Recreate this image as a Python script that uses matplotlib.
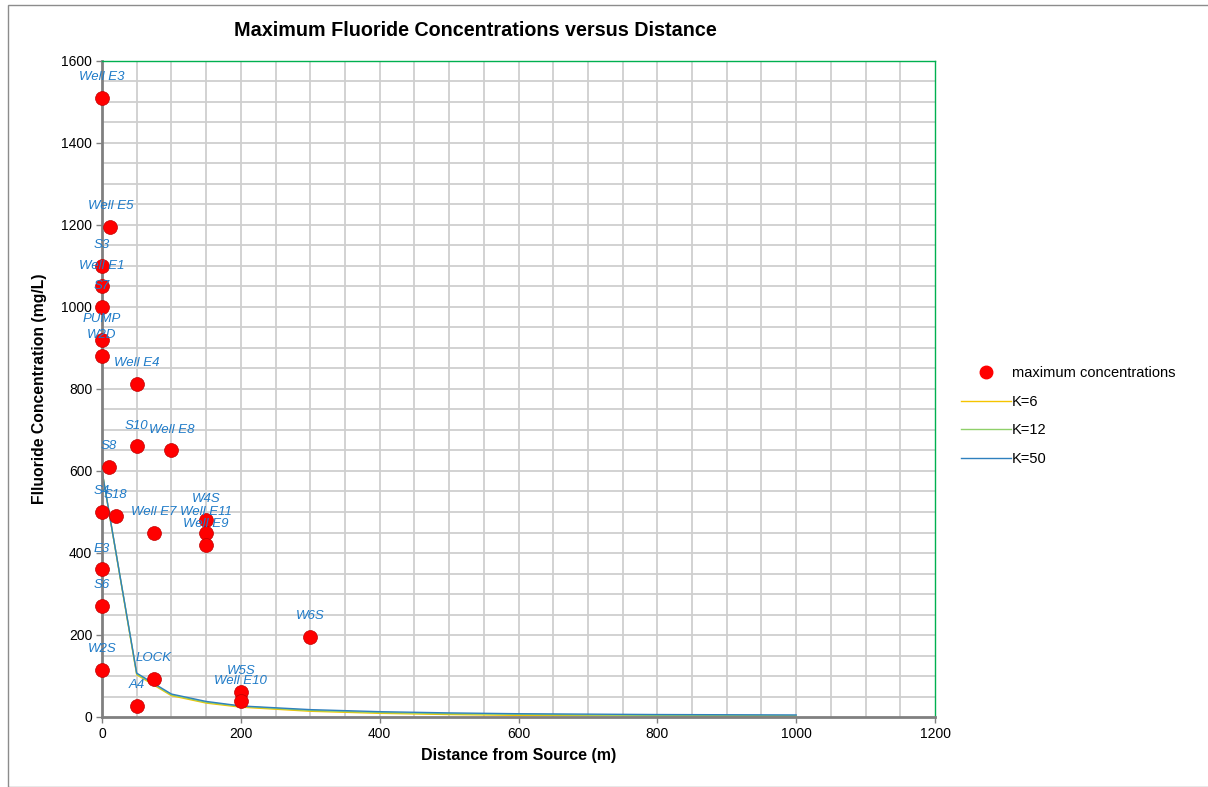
import matplotlib
matplotlib.use("Agg")
import matplotlib.pyplot as plt
from matplotlib.patches import Rectangle
from matplotlib.lines import Line2D

plt.rcParams['font.family'] = ['Liberation Sans', 'DejaVu Sans']

# ---- data ----
well_names = ["Well E3", "Well E5", "S3", "Well E1", "S7", "PUMP", "W2D", "Well E4",
              "S10", "Well E8", "S8", "S4", "S18", "Well E7", "W4S", "Well E11",
              "Well E9", "E3", "S6", "W6S", "W2S", "LOCK", "A4", "W5S", "Well E10"]
well_dist = [0, 12, 0, 0, 0, 0, 0, 50,
             50, 100, 10, 0, 20, 75, 150, 150,
             150, 0, 0, 300, 0, 75, 50, 200, 200]
well_conc = [1510, 1195, 1100, 1050, 1000, 920, 880, 812,
             660, 650, 610, 500, 490, 450, 480, 450,
             420, 360, 270, 195, 115, 92, 28, 62, 38]

model_dist = [0, 50, 100, 150, 200, 300, 400, 500, 600, 700, 800, 900, 1000]
k6_conc = [600, 103, 52, 34, 24, 14, 9, 6, 4, 3, 2, 1.5, 1]
k12_conc = [600, 105, 54, 36, 26, 16, 11, 8, 6.5, 5, 4, 3.5, 3]
k50_conc = [600, 107, 56, 38, 27, 18, 13, 10, 8, 7, 6, 5.5, 5]

x_ticks = [0, 200, 400, 600, 800, 1000, 1200]
y_ticks = [0, 200, 400, 600, 800, 1000, 1200, 1400, 1600]

W, H = 1208, 787
fig = plt.figure(figsize=(W / 100, H / 100), dpi=100)
fig.patches.append(Rectangle((8 / W, 0), 1.1, 1 - 5 / H, transform=fig.transFigure,
                             fill=False, edgecolor='#8c8c8c', lw=1.0))

ax = fig.add_axes([102 / W, 1 - 717 / H, (935 - 102) / W, (717 - 61) / H])
ax.set_xlim(0, 1200)
ax.set_ylim(0, 1600)

# grid every 50
for gx in range(50, 1200, 50):
    ax.axvline(gx, color='#cfcfcf', lw=1.3, zorder=0)
for gy in range(50, 1600, 50):
    ax.axhline(gy, color='#cfcfcf', lw=1.3, zorder=0)

ax.plot(model_dist, k6_conc, color='#F5C400', lw=1.0, label='K=6', zorder=2)
ax.plot(model_dist, k12_conc, color='#8FD06A', lw=1.0, label='K=12', zorder=2)
ax.plot(model_dist, k50_conc, color='#2F80BE', lw=1.0, label='K=50', zorder=2)

ax.scatter(well_dist, well_conc, s=100, color='#FF0000', edgecolors='#C00000',
           linewidths=0.5, zorder=5, label='maximum concentrations', clip_on=False)

for n, xv, yv in zip(well_names, well_dist, well_conc):
    ax.annotate(n, (xv, yv), xytext=(0, 15), textcoords='offset points',
                ha='center', va='center', fontsize=9.5, style='italic',
                color='#1F7BC8', zorder=6)

ax.set_xticks(x_ticks)
ax.set_yticks(y_ticks)
ax.tick_params(axis='both', labelsize=10, length=4, width=1, color='#808080',
               direction='out', pad=3)

for s in ['left', 'bottom']:
    ax.spines[s].set_color('#808080')
    ax.spines[s].set_linewidth(2)
for s in ['top', 'right']:
    ax.spines[s].set_color('#00B050')
    ax.spines[s].set_linewidth(1)

ax.set_xlabel('Distance from Source (m)', fontsize=11.5, fontweight='bold', labelpad=5)
ax.set_ylabel('Flluoride Concentration (mg/L)', fontsize=11.3, fontweight='bold', labelpad=10)

fig.text(475 / W, 1 - 31 / H, 'Maximum Fluoride Concentrations versus Distance',
         ha='center', va='center', fontsize=14.2, fontweight='bold')

handles = [Line2D([], [], marker='o', ls='none', color='#FF0000', markersize=9),
           Line2D([], [], color='#F5C400', lw=1),
           Line2D([], [], color='#8FD06A', lw=1),
           Line2D([], [], color='#2F80BE', lw=1)]
labels = ['maximum concentrations', 'K=6', 'K=12', 'K=50']
fig.legend(handles, labels, loc='center left', bbox_to_anchor=(948 / W, 1 - 416 / H),
           frameon=False, fontsize=10.5, handlelength=3.4, handletextpad=0.1,
           labelspacing=1.0)

fig.savefig('out.png', dpi=100)
